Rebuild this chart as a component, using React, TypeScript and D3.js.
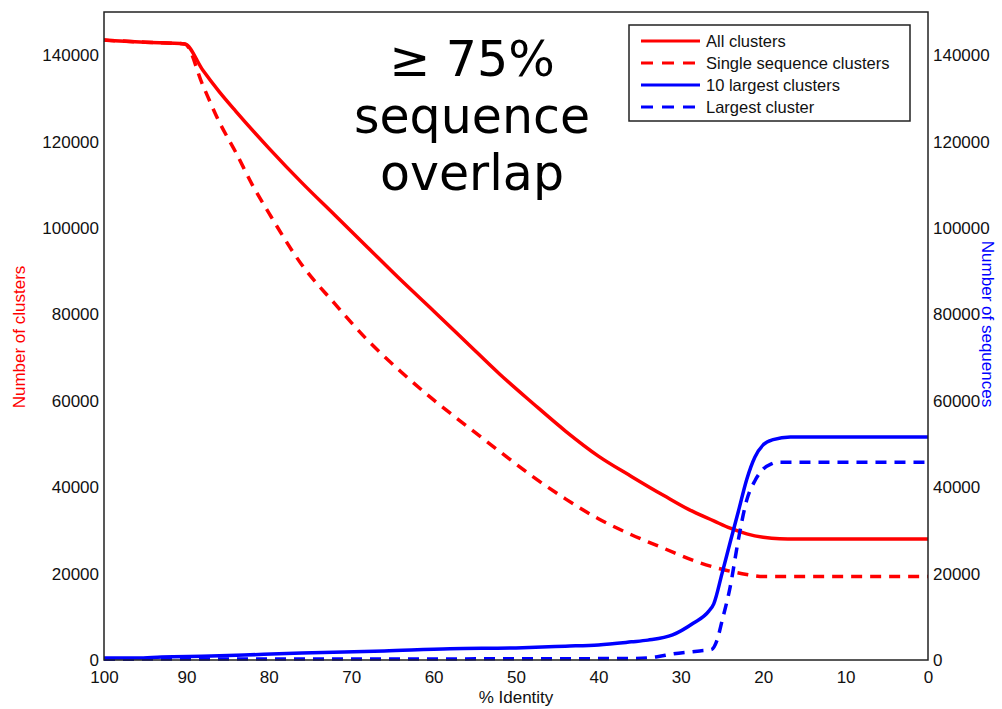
import React, { useEffect, useRef } from "react";
import * as d3 from "d3";

// % identity thresholds and counts
const allIdentity = [100, 95, 90.2, 88, 86, 84, 80, 76, 72, 68, 64, 60, 56, 52, 48, 44, 40, 36, 32, 29, 26, 24, 22, 20, 18, 16, 0];
const allClusters = [143500, 143000, 142600, 136500, 131500, 127000, 118500, 110500, 103000, 95500, 88000, 80800, 73500, 66200, 59500, 53000, 47200, 42500, 38000, 34800, 32200, 30500, 29200, 28400, 28050, 28000, 28000];

const singleIdentity = [100, 95, 90.2, 88, 86, 84, 82, 80, 76, 72, 68, 64, 60, 56, 52, 48, 44, 40, 36, 32, 28, 25, 22, 20, 18, 0];
const singleClusters = [143500, 143000, 142600, 133000, 124500, 117500, 110000, 103500, 91500, 82500, 74000, 66800, 60200, 54200, 48300, 42500, 37300, 32700, 29000, 25800, 22700, 21000, 19800, 19300, 19300, 19300];

const top10Identity = [100, 96, 93, 87, 83, 76, 66, 58, 50, 44, 40, 36, 34, 31, 28.5, 26.6, 26, 25, 24, 23, 22, 21, 20, 18.8, 16.7, 0];
const top10Sequences = [460, 460, 700, 900, 1150, 1600, 2100, 2600, 2800, 3200, 3500, 4200, 4600, 5800, 8500, 11300, 13000, 20000, 27300, 34500, 41800, 47000, 49800, 51000, 51600, 51600];

const largestIdentity = [100, 60, 36, 33, 31, 27.7, 26.3, 25.6, 25, 24, 23, 22, 21, 20, 19, 18.3, 0];
const largestSequences = [200, 250, 350, 700, 1400, 2100, 2400, 4600, 9000, 17000, 28000, 37000, 41500, 44200, 45400, 45800, 45800];

const xTicks = [100, 90, 80, 70, 60, 50, 40, 30, 20, 10, 0];
const yTicks = [0, 20000, 40000, 60000, 80000, 100000, 120000, 140000];

const legendLabels = ["All clusters", "Single sequence clusters", "10 largest clusters", "Largest cluster"];
const annotationLines = ["\u2265 75%", "sequence", "overlap"];

const W = 1002;
const H = 709;
const left = 104, right = 928, top = 12, bottom = 660;
const font = "'Liberation Sans', Arial, sans-serif";

export default function App() {
  const ref = useRef<SVGSVGElement>(null);

  useEffect(() => {
    const svg = d3.select(ref.current);
    svg.selectAll("*").remove();

    const x = d3.scaleLinear().domain([100, 0]).range([left, right]);
    const y = d3.scaleLinear().domain([0, 150000]).range([bottom, top]);

    const series = [
      { xs: allIdentity, ys: allClusters, color: "#ff0000", dash: null },
      { xs: singleIdentity, ys: singleClusters, color: "#ff0000", dash: "11,8" },
      { xs: top10Identity, ys: top10Sequences, color: "#0000ff", dash: null },
      { xs: largestIdentity, ys: largestSequences, color: "#0000ff", dash: "11,8" },
    ];

    const line = d3
      .line<[number, number]>()
      .x((d) => x(d[0]))
      .y((d) => y(d[1]))
      .curve(d3.curveMonotoneX);

    series.forEach((s) => {
      const pts = s.xs.map((v, i) => [v, s.ys[i]] as [number, number]);
      svg
        .append("path")
        .attr("d", line(pts))
        .attr("fill", "none")
        .attr("stroke", s.color)
        .attr("stroke-width", 3.5)
        .attr("stroke-dasharray", s.dash)
        .attr("stroke-linejoin", "round");
    });

    // frame
    svg
      .append("rect")
      .attr("x", left)
      .attr("y", top)
      .attr("width", right - left)
      .attr("height", bottom - top)
      .attr("fill", "none")
      .attr("stroke", "#222")
      .attr("stroke-width", 1.5);

    const styleAxis = (g: any) => {
      g.select(".domain").remove();
      g.selectAll("text").attr("font-family", font).attr("font-size", 17).attr("fill", "#111");
    };

    svg
      .append("g")
      .attr("transform", `translate(${left},0)`)
      .call(d3.axisLeft(y).tickValues(yTicks).tickSize(0).tickPadding(5).tickFormat(d3.format("d")))
      .call(styleAxis);

    svg
      .append("g")
      .attr("transform", `translate(${right},0)`)
      .call(d3.axisRight(y).tickValues(yTicks).tickSize(0).tickPadding(5).tickFormat(d3.format("d")))
      .call(styleAxis);

    svg
      .append("g")
      .attr("transform", `translate(0,${bottom})`)
      .call(d3.axisBottom(x).tickValues(xTicks).tickSize(0).tickPadding(11).tickFormat(d3.format("d")))
      .call(styleAxis);

    // axis titles
    svg
      .append("text")
      .attr("transform", `translate(25,337) rotate(-90)`)
      .attr("text-anchor", "middle")
      .attr("font-family", font)
      .attr("font-size", 17)
      .attr("fill", "#ff0000")
      .text("Number of clusters");

    svg
      .append("text")
      .attr("transform", `translate(982,324) rotate(90)`)
      .attr("text-anchor", "middle")
      .attr("font-family", font)
      .attr("font-size", 17)
      .attr("fill", "#0000ff")
      .text("Number of sequences");

    svg
      .append("text")
      .attr("x", 516)
      .attr("y", 703)
      .attr("text-anchor", "middle")
      .attr("font-family", font)
      .attr("font-size", 17)
      .attr("fill", "#111")
      .text("% Identity");

    // annotation
    svg
      .append("g")
      .selectAll("text")
      .data(annotationLines)
      .enter()
      .append("text")
      .attr("x", 472)
      .attr("y", (d, i) => 76 + i * 57)
      .attr("text-anchor", "middle")
      .attr("font-family", "'DejaVu Sans', Verdana, sans-serif")
      .attr("font-size", 49)
      .attr("fill", "#000")
      .text((d) => d);

    // legend
    const lg = svg.append("g");
    lg.append("rect")
      .attr("x", 629)
      .attr("y", 25)
      .attr("width", 281)
      .attr("height", 96)
      .attr("fill", "#fff")
      .attr("stroke", "#222")
      .attr("stroke-width", 1.5);

    legendLabels.forEach((label, i) => {
      const yy = 41 + i * 22;
      lg.append("line")
        .attr("x1", 641)
        .attr("x2", 700)
        .attr("y1", yy)
        .attr("y2", yy)
        .attr("stroke", series[i].color)
        .attr("stroke-width", 3)
        .attr("stroke-dasharray", series[i].dash ? "12,9" : null);
      lg.append("text")
        .attr("x", 706)
        .attr("y", yy + 6)
        .attr("font-family", font)
        .attr("font-size", 16.5)
        .attr("fill", "#111")
        .text(label);
    });
  }, []);

  return (
    <svg
      ref={ref}
      width={W}
      height={H}
      style={{ position: "absolute", left: 0, top: 0, background: "#fff" }}
    />
  );
}
